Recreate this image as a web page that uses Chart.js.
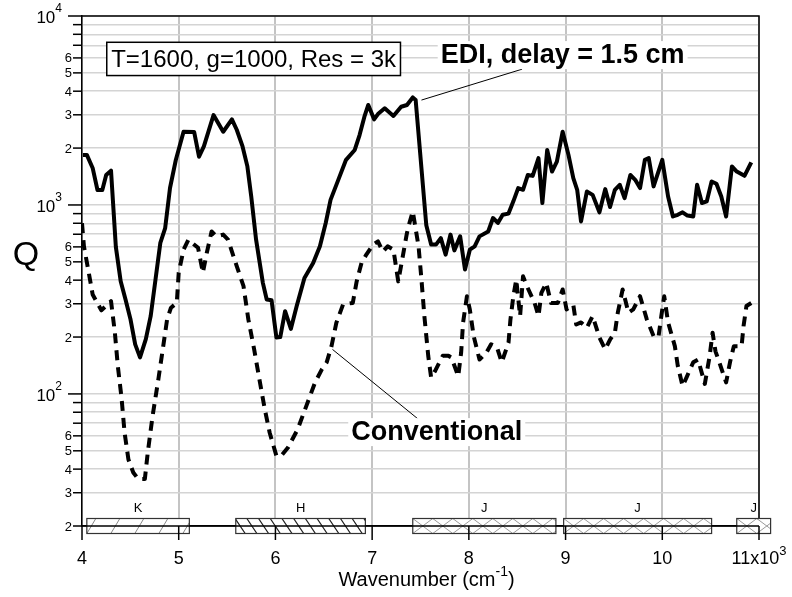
<!DOCTYPE html>
<html>
<head>
<meta charset="utf-8">
<script src="https://cdn.jsdelivr.net/npm/chart.js@4.4.1/dist/chart.umd.min.js"></script>
<style>
  body { margin: 0; background: #fff; }
  canvas { display: block; }
</style>
</head>
<body>
<canvas id="grafica" width="792" height="597"></canvas>
<script>
// wavenumber in units of 10^3 cm^-1, Q
const ediX = [4.01, 4.05, 4.11, 4.16, 4.21, 4.25, 4.30, 4.35, 4.40, 4.45, 4.50, 4.55, 4.60, 4.66, 4.71, 4.76, 4.81, 4.86, 4.91, 4.97,
  5.05, 5.16, 5.21, 5.26, 5.36, 5.46, 5.55, 5.60, 5.66, 5.71, 5.75, 5.80, 5.87, 5.91, 5.96, 6.01, 6.05, 6.10, 6.16, 6.22,
  6.30, 6.39, 6.46, 6.52, 6.57, 6.65, 6.73, 6.82, 6.87, 6.92, 6.96, 7.02, 7.06, 7.13, 7.22, 7.30, 7.36, 7.42, 7.45, 7.56,
  7.61, 7.66, 7.71, 7.76, 7.81, 7.85, 7.91, 7.96, 8.01, 8.06, 8.11, 8.20, 8.25, 8.30, 8.35, 8.41, 8.46, 8.51, 8.56, 8.61,
  8.66, 8.72, 8.76, 8.81, 8.86, 8.91, 8.97, 9.03, 9.08, 9.12, 9.16, 9.22, 9.28, 9.35, 9.41, 9.46, 9.51, 9.56, 9.61, 9.67,
  9.72, 9.77, 9.82, 9.86, 9.91, 10.00, 10.06, 10.11, 10.16, 10.21, 10.26, 10.32, 10.36, 10.41, 10.46, 10.51, 10.56, 10.61, 10.66, 10.72,
  10.77, 10.85, 10.92];
const ediQ = [1840, 1840, 1570, 1200, 1200, 1440, 1520, 600, 395, 316, 250, 183, 156, 195, 258, 403, 630, 755, 1230, 1730,
  2440, 2430, 1800, 2040, 2990, 2440, 2840, 2500, 2040, 1600, 1110, 655, 387, 316, 313, 199, 200, 274, 221, 292,
  411, 493, 604, 803, 1064, 1358, 1733, 1954, 2344, 2931, 3381, 2838, 3026, 3246, 2957, 3310, 3381, 3707, 3590, 780,
  617, 617, 668, 546, 697, 575, 682, 455, 580, 604, 682, 724, 853, 803, 887, 900, 1045, 1228, 1203, 1442,
  1425, 1770, 1024, 1954, 1503, 1697, 2443, 1841, 1386, 1203, 818, 1178, 1131, 914, 1213, 975, 1203, 1279, 1086, 1442,
  1358, 1228, 1733, 1770, 1254, 1733, 1109, 869, 887, 914, 879, 869, 1279, 1024, 1045, 1331, 1295, 1109, 869, 1600,
  1503, 1426, 1679];

const convX = [4.00, 4.02, 4.07, 4.11, 4.20, 4.30, 4.34, 4.37, 4.41, 4.44, 4.48, 4.53, 4.58, 4.65, 4.68, 4.73, 4.79, 4.84, 4.88, 4.92,
  4.98, 5.00, 5.05, 5.10, 5.20, 5.25, 5.29, 5.34, 5.39, 5.46, 5.51, 5.60, 5.67, 5.72, 5.78, 5.84, 5.89, 5.94, 6.01, 6.06,
  6.13, 6.23, 6.32, 6.41, 6.48, 6.53, 6.58, 6.63, 6.70, 6.80, 6.84, 6.89, 6.94, 7.01, 7.06, 7.11, 7.16, 7.22, 7.27, 7.32,
  7.36, 7.39, 7.42, 7.48, 7.51, 7.54, 7.58, 7.61, 7.65, 7.73, 7.79, 7.82, 7.89, 7.92, 7.94, 7.98, 8.01, 8.05, 8.11, 8.18,
  8.23, 8.29, 8.34, 8.41, 8.43, 8.46, 8.49, 8.53, 8.56, 8.60, 8.68, 8.72, 8.75, 8.80, 8.85, 8.92, 8.97, 9.01, 9.08, 9.11,
  9.16, 9.22, 9.28, 9.35, 9.41, 9.46, 9.51, 9.54, 9.59, 9.65, 9.70, 9.77, 9.84, 9.91, 9.96, 9.99, 10.02, 10.06, 10.13, 10.16,
  10.21, 10.25, 10.32, 10.37, 10.44, 10.49, 10.52, 10.55, 10.59, 10.66, 10.70, 10.74, 10.82, 10.84, 10.87, 10.92];
const convQ = [800, 604, 438, 336, 277, 310, 211, 141, 94, 62.5, 45, 38.4, 35.5, 35.5, 49, 76.5, 120, 179, 248, 286,
  303, 438, 580, 655, 593, 438, 557, 724, 682, 697, 655, 474, 372, 248, 172, 115, 83, 62.5, 47, 47,
  52, 65, 86.5, 115, 135, 147, 179, 238, 298, 303, 394, 493, 546, 617, 641, 566, 604, 580, 394, 546,
  711, 818, 925, 604, 403, 258, 159, 122, 132, 159, 159, 156, 124, 165, 238, 329, 280, 202, 152, 165,
  183, 177, 147, 187, 248, 329, 403, 258, 419, 372, 303, 258, 343, 387, 303, 303, 357, 280, 296, 233,
  239, 224, 258, 199, 172, 194, 211, 269, 357, 269, 280, 329, 248, 202, 199, 258, 329, 239, 179, 141,
  110, 122, 147, 152, 113, 159, 211, 168, 147, 115, 147, 179, 179, 228, 292, 303];

const xTicks = [4, 5, 6, 7, 8, 9, 10, 11];
const yMinorLabels = [2, 3, 4, 5, 6];

// photometric bands along the bottom
const bandLabels = ['K', 'H', 'J', 'J', 'J'];
const bandStart = [4.05, 5.59, 7.42, 8.98, 10.77];
const bandEnd = [5.11, 6.93, 8.90, 10.51, 11.12];
const bandLevel = 20;

const infoText = 'T=1600, g=1000, Res = 3k';
const ediLabel = 'EDI, delay = 1.5 cm';
const convLabel = 'Conventional';

const yTickValues = [];
[10, 100, 1000].forEach(d => {
    for (let m = 1; m <= 9; m++) if (m * d >= 20) yTickValues.push(m * d);
});
yTickValues.push(10000);

const FONT = '"Liberation Sans", Arial, Helvetica, sans-serif';
const hatchKind = { K: 'fwd', H: 'back', J: 'cross' };

function hatch(ctx, l, t, w, h, kind) {
    ctx.save();
    ctx.beginPath();
    ctx.rect(l, t, w, h);
    ctx.clip();
    ctx.beginPath();
    if (kind === 'fwd') {
        ctx.strokeStyle = '#888'; ctx.lineWidth = 1;
        for (let sx = l - 48; sx < l + w + 24; sx += 24) { ctx.moveTo(sx, t + h); ctx.lineTo(sx + 9, t); }
    } else if (kind === 'back') {
        ctx.strokeStyle = '#222'; ctx.lineWidth = 1.3;
        for (let sx = l - 24; sx < l + w + 12; sx += 11.7) { ctx.moveTo(sx, t); ctx.lineTo(sx + 10, t + h); }
    } else {
        ctx.strokeStyle = '#9a9a9a'; ctx.lineWidth = 1;
        for (let sx = l - 40; sx < l + w + 20; sx += 20) {
            ctx.moveTo(sx, t + h); ctx.lineTo(sx + 20, t);
            ctx.moveTo(sx, t); ctx.lineTo(sx + 20, t + h);
        }
    }
    ctx.stroke();
    ctx.restore();
}

// text with a superscript; x is the left edge, centre or right edge depending on align
function supText(ctx, base, sup, x, y, size, supSize, align, supRise) {
    ctx.font = size + 'px ' + FONT;
    const wb = ctx.measureText(base).width;
    ctx.font = supSize + 'px ' + FONT;
    const ws = ctx.measureText(sup).width;
    let left = x;
    if (align === 'center') left = x - (wb + ws) / 2;
    else if (align === 'right') left = x - wb - ws;
    ctx.textAlign = 'left';
    ctx.textBaseline = 'middle';
    ctx.font = size + 'px ' + FONT;
    ctx.fillText(base, left, y);
    ctx.font = supSize + 'px ' + FONT;
    ctx.fillText(sup, left + wb, y - supRise);
    return left + wb + ws;
}

function boxedText(ctx, text, cx, cy, font) {
    ctx.font = font;
    const w = ctx.measureText(text).width;
    ctx.fillStyle = '#fff';
    ctx.fillRect(cx - w / 2 - 3, cy - 14, w + 6, 28);
    ctx.fillStyle = '#000';
    ctx.textAlign = 'center';
    ctx.textBaseline = 'middle';
    ctx.fillText(text, cx, cy);
}

const decor = {
    id: 'decor',
    afterDraw(chart) {
        const { ctx, chartArea: a, scales: { x, y } } = chart;
        ctx.save();

        // top / right frame
        ctx.strokeStyle = '#000';
        ctx.lineWidth = 1.5;
        ctx.beginPath();
        ctx.moveTo(a.left, a.top);
        ctx.lineTo(a.right, a.top);
        ctx.lineTo(a.right, a.bottom);
        ctx.stroke();

        // bands
        const by = y.getPixelForValue(bandLevel);
        bandLabels.forEach((lab, i) => {
            const l = x.getPixelForValue(bandStart[i]);
            const r = x.getPixelForValue(bandEnd[i]);
            ctx.fillStyle = '#fff';
            ctx.fillRect(l, by - 7.5, r - l, 15);
            hatch(ctx, l, by - 7.5, r - l, 15, hatchKind[lab]);
            ctx.strokeStyle = '#333';
            ctx.lineWidth = 1.2;
            ctx.strokeRect(l, by - 7.5, r - l, 15);
            ctx.fillStyle = '#000';
            ctx.font = '13px ' + FONT;
            ctx.textAlign = 'center';
            ctx.textBaseline = 'middle';
            ctx.fillText(lab, (l + r) / 2, by - 18);
        });

        // bottom axis line over the bands
        ctx.strokeStyle = '#000';
        ctx.lineWidth = 1.5;
        ctx.beginPath();
        ctx.moveTo(a.left, a.bottom);
        ctx.lineTo(a.right, a.bottom);
        ctx.stroke();

        // x ticks and labels
        ctx.fillStyle = '#000';
        xTicks.forEach(v => {
            const px = x.getPixelForValue(v);
            ctx.beginPath();
            ctx.moveTo(px, a.bottom);
            ctx.lineTo(px, a.bottom + 14);
            ctx.stroke();
            if (v === xTicks[xTicks.length - 1]) {
                supText(ctx, v + 'x10', '3', px, a.bottom + 33, 18, 13, 'center', 8);
            } else {
                ctx.font = '18px ' + FONT;
                ctx.textAlign = 'center';
                ctx.textBaseline = 'middle';
                ctx.fillText(String(v), px, a.bottom + 33);
            }
        });

        // y ticks and labels
        yTickValues.forEach(v => {
            const py = y.getPixelForValue(v);
            const e = Math.floor(Math.log10(v) + 1e-9);
            const m = Math.round(v / Math.pow(10, e));
            const len = m === 1 ? 14 : 9;
            ctx.beginPath();
            ctx.moveTo(a.left - len, py);
            ctx.lineTo(a.left, py);
            ctx.stroke();
            if (m === 1) {
                supText(ctx, '10', String(e), a.left - 20, py + 2, 17, 12, 'right', 9);
            } else if (yMinorLabels.includes(m)) {
                ctx.font = '13px ' + FONT;
                ctx.textAlign = 'right';
                ctx.textBaseline = 'middle';
                ctx.fillText(String(m), a.left - 10, py + 1);
            }
        });

        // axis titles
        ctx.font = '34px ' + FONT;
        ctx.textAlign = 'center';
        ctx.textBaseline = 'middle';
        ctx.fillText('Q', 26, (a.top + a.bottom) / 2 - 15);

        ctx.font = '20px ' + FONT;
        const t1 = 'Wavenumber (cm', t2 = ')';
        const w1 = ctx.measureText(t1).width, w3 = ctx.measureText(t2).width;
        ctx.font = '14px ' + FONT;
        const w2 = ctx.measureText('-1').width;
        let tx = (a.left + a.right) / 2 + 6 - (w1 + w2 + w3) / 2;
        const ty = a.bottom + 54;
        tx = supText(ctx, t1, '-1', tx, ty, 20, 14, 'left', 8);
        ctx.font = '20px ' + FONT;
        ctx.textAlign = 'left';
        ctx.fillText(t2, tx, ty);

        // info box
        const bl = x.getPixelForValue(4.256), br = x.getPixelForValue(7.293);
        const bt = y.getPixelForValue(7260), bb = y.getPixelForValue(4840);
        ctx.fillStyle = '#fff';
        ctx.fillRect(bl, bt, br - bl, bb - bt);
        ctx.strokeStyle = '#000';
        ctx.lineWidth = 1.5;
        ctx.strokeRect(bl, bt, br - bl, bb - bt);
        ctx.fillStyle = '#000';
        ctx.font = '24px ' + FONT;
        ctx.textAlign = 'center';
        ctx.textBaseline = 'middle';
        ctx.fillText(infoText, (bl + br) / 2, (bt + bb) / 2 + 1);

        // series labels with leader lines
        ctx.lineWidth = 1;
        ctx.beginPath();
        ctx.moveTo(x.getPixelForValue(8.55), y.getPixelForValue(5230));
        ctx.lineTo(x.getPixelForValue(7.51), y.getPixelForValue(3590));
        ctx.moveTo(x.getPixelForValue(7.49), y.getPixelForValue(72.6));
        ctx.lineTo(x.getPixelForValue(6.59), y.getPixelForValue(172));
        ctx.stroke();
        boxedText(ctx, ediLabel, x.getPixelForValue(8.97), y.getPixelForValue(6210), 'bold 27px ' + FONT);
        boxedText(ctx, convLabel, x.getPixelForValue(7.668), y.getPixelForValue(62.8), 'bold 27px ' + FONT);

        ctx.restore();
    }
};

const ctx = document.getElementById('grafica').getContext('2d');
new Chart(ctx, {
    type: 'line',
    data: {
        datasets: [
            {
                label: ediLabel,
                data: ediX.map((v, i) => ({ x: v, y: ediQ[i] })),
                borderColor: '#000',
                borderWidth: 4,
                borderJoinStyle: 'round',
                pointRadius: 0,
                tension: 0
            },
            {
                label: convLabel,
                data: convX.map((v, i) => ({ x: v, y: convQ[i] })),
                borderColor: '#000',
                borderWidth: 4,
                borderDash: [10, 7],
                borderCapStyle: 'butt',
                borderJoinStyle: 'round',
                pointRadius: 0,
                tension: 0
            }
        ]
    },
    options: {
        responsive: false,
        animation: false,
        devicePixelRatio: 1,
        layout: { padding: { left: 82, right: 33, top: 16, bottom: 71 } },
        plugins: { legend: { display: false }, tooltip: { enabled: false } },
        scales: {
            x: {
                type: 'linear', min: 4, max: 11,
                afterBuildTicks: s => { s.ticks = xTicks.map(v => ({ value: v })); },
                ticks: { display: false },
                grid: { color: '#c4c4c4', lineWidth: 2, drawTicks: false },
                border: { color: '#000', width: 1.5 }
            },
            y: {
                type: 'logarithmic', min: 20, max: 10000,
                afterBuildTicks: s => { s.ticks = yTickValues.map(v => ({ value: v })); },
                ticks: { display: false },
                grid: { color: '#d4d4d4', lineWidth: 1.5, drawTicks: false },
                border: { color: '#000', width: 1.5 }
            }
        }
    },
    plugins: [decor]
});
</script>
</body>
</html>
